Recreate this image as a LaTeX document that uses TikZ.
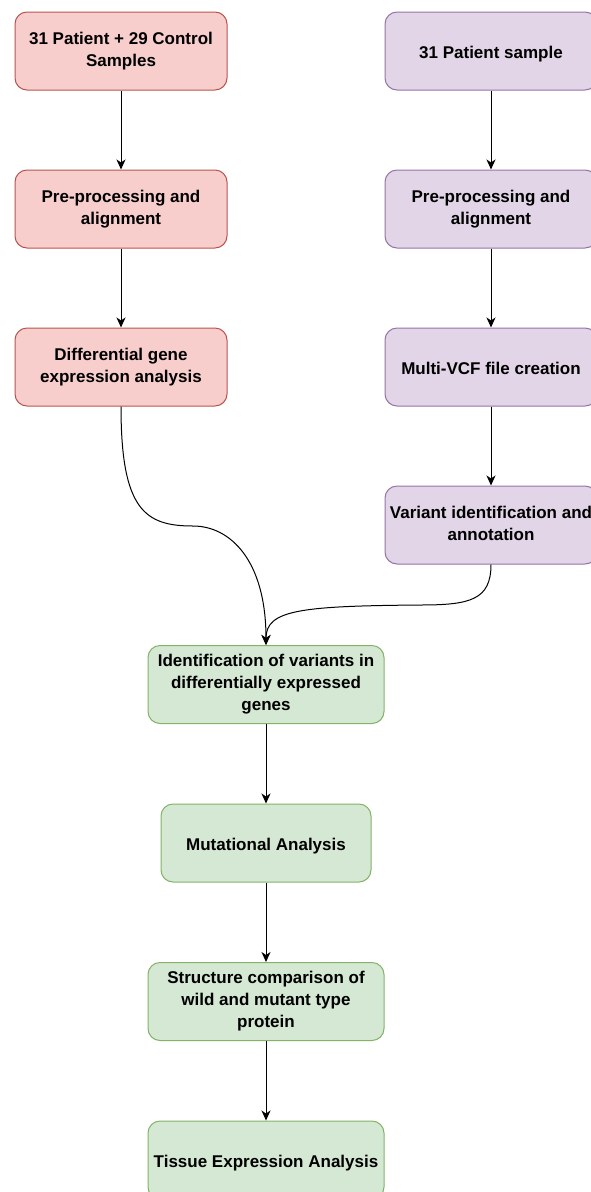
\documentclass[tikz,border=0pt]{standalone}
\usepackage{fontspec}
\setmainfont{Liberation Sans}
\usepackage{tikz}
\usetikzlibrary{arrows.meta, positioning}
\definecolor{redfill}{HTML}{F8CECC}
\definecolor{redline}{HTML}{B85450}
\definecolor{purplefill}{HTML}{E1D5E7}
\definecolor{purpleline}{HTML}{9673A6}
\definecolor{greenfill}{HTML}{D5E8D4}
\definecolor{greenline}{HTML}{82B366}

\begin{document}
\begin{tikzpicture}[
  x=1pt, y=1pt,
  node distance=79pt and 157pt,
  box/.style={rectangle, rounded corners=12pt, line width=1pt, align=center,
              minimum width=212pt, minimum height=78pt,
              font=\fontsize{17}{22}\selectfont\bfseries,
              execute at begin node={\rule{0pt}{18.4pt}},
              execute at end node={\rule[-3.6pt]{0pt}{3.6pt}}},
  redbox/.style={box, draw=redline, fill=redfill},
  purplebox/.style={box, draw=purpleline, fill=purplefill},
  greenbox/.style={box, draw=greenline, fill=greenfill, minimum width=236pt},
  arrow/.style={-{Stealth[length=10pt, width=9pt, inset=3pt]}, line width=1pt, black}
]
\path[use as bounding box, clip] (0,0) rectangle (591,-1192);
% left column
\node[redbox] (samples) at (121,-51) {31 Patient + 29 Control\\Samples};
\node[redbox, below=of samples] (prepleft) {Pre-processing and\\alignment};
\node[redbox, below=of prepleft] (dge) {Differential gene\\expression analysis};
% right column
\node[purplebox, right=of samples] (patients) {31 Patient sample};
\node[purplebox, below=of patients] (prepright) {Pre-processing and\\alignment};
\node[purplebox, below=of prepright] (vcf) {Multi-VCF file creation};
\node[purplebox, below=of vcf] (variant) {Variant identification and\\annotation};
% merged column
\node[greenbox] (degvar) at (266,-684.5) {Identification of variants in\\differentially expressed\\genes};
\node[greenbox, minimum width=210pt, below=79.5pt of degvar] (mutation) {Mutational Analysis};
\node[greenbox, below=79.5pt of mutation] (structure) {Structure comparison of\\wild and mutant type\\protein};
\node[greenbox, below=79.5pt of structure] (tissue) {Tissue Expression Analysis};
\coordinate (leftmid) at (193,-526);
\coordinate (rightmid) at (420,-605);
\draw[arrow] (samples) -- (prepleft);
\draw[arrow] (prepleft) -- (dge);
\draw[arrow] (patients) -- (prepright);
\draw[arrow] (prepright) -- (vcf);
\draw[arrow] (vcf) -- (variant);
\draw[arrow] (dge.south) .. controls (121,-510) and (145,-526) .. (leftmid)
  .. controls (230,-526) and (266,-560) .. (degvar.north);
\draw[arrow] (variant.south) .. controls (491,-600) and (470,-605) .. (rightmid)
  .. controls (300,-606) and (266,-610) .. (degvar.north);
\draw[arrow] (degvar) -- (mutation);
\draw[arrow] (mutation) -- (structure);
\draw[arrow] (structure) -- (tissue);
\end{tikzpicture}
\end{document}
